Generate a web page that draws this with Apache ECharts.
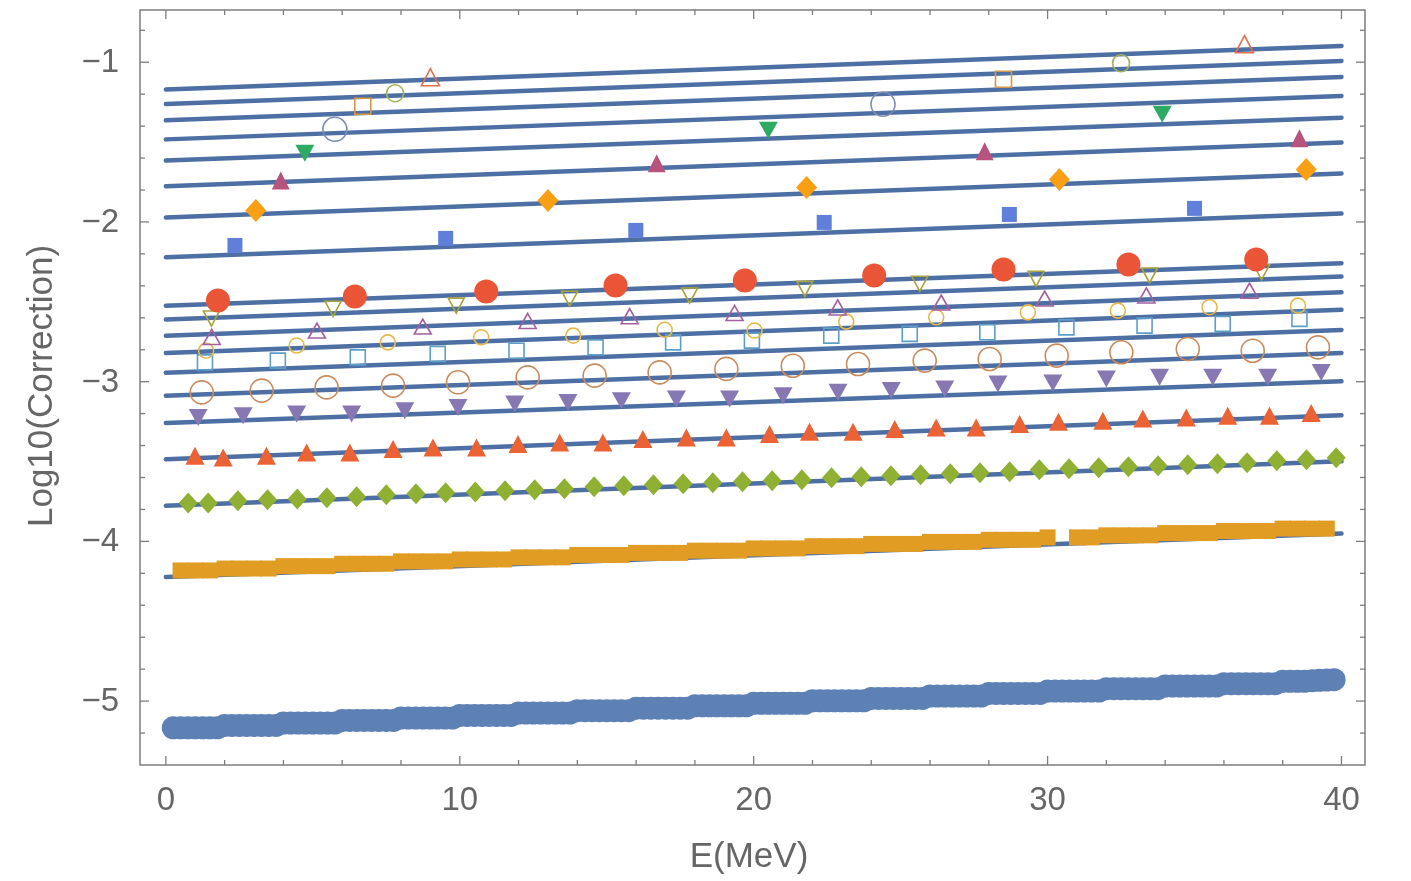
<!DOCTYPE html>
<html><head><meta charset="utf-8">
<script src="https://cdn.jsdelivr.net/npm/echarts@6/dist/echarts.min.js"></script>
<style>html,body{margin:0;padding:0;background:#fff}#c{width:1411px;height:881px}</style>
</head><body><div id="c"></div>
<script>
// ---------- DATA ----------
const xMajorTicks = [0, 10, 20, 30, 40];
const xTickLabels = ['0', '10', '20', '30', '40'];
const xMinorTicks = [2, 4, 6, 8, 12, 14, 16, 18, 22, 24, 26, 28, 32, 34, 36, 38];
const yMajorTicks = [-5, -4, -3, -2, -1];
const yTickLabels = ['\u22125', '\u22124', '\u22123', '\u22122', '\u22121'];
const yMinorTicks = [-5.2, -4.8, -4.6, -4.4, -4.2, -3.8, -3.6, -3.4, -3.2, -2.8, -2.6, -2.4, -2.2, -1.8, -1.6, -1.4, -1.2, -0.8];

// fitted lines (value at E = lineX[0] and lineX[1])
const lineX = [0, 40];
const lineStart = [-1.171, -1.261, -1.364, -1.483, -1.616, -1.776, -1.972, -2.221, -2.524, -2.611, -2.712, -2.820, -2.944, -3.088, -3.259, -3.485, -3.777, -4.223, -5.175];
const lineEnd = [-0.898, -0.992, -1.092, -1.211, -1.347, -1.503, -1.696, -1.947, -2.258, -2.342, -2.440, -2.550, -2.676, -2.820, -2.998, -3.211, -3.499, -3.951, -4.880];

// series A (blue dots, dense)
const aX = [
  0.25,0.5,0.75,1.0,1.25,1.5,1.75,
  2.0,2.25,2.5,2.75,3.0,3.25,3.5,3.75,
  4.0,4.25,4.5,4.75,5.0,5.25,5.5,5.75,
  6.0,6.25,6.5,6.75,7.0,7.25,7.5,7.75,
  8.0,8.25,8.5,8.75,9.0,9.25,9.5,9.75,
  10.0,10.25,10.5,10.75,11.0,11.25,11.5,11.75,
  12.0,12.25,12.5,12.75,13.0,13.25,13.5,13.75,
  14.0,14.25,14.5,14.75,15.0,15.25,15.5,15.75,
  16.0,16.25,16.5,16.75,17.0,17.25,17.5,17.75,
  18.0,18.25,18.5,18.75,19.0,19.25,19.5,19.75,
  20.0,20.25,20.5,20.75,21.0,21.25,21.5,21.75,
  22.0,22.25,22.5,22.75,23.0,23.25,23.5,23.75,
  24.0,24.25,24.5,24.75,25.0,25.25,25.5,25.75,
  26.0,26.25,26.5,26.75,27.0,27.25,27.5,27.75,
  28.0,28.25,28.5,28.75,29.0,29.25,29.5,29.75,
  30.0,30.25,30.5,30.75,31.0,31.25,31.5,31.75,
  32.0,32.25,32.5,32.75,33.0,33.25,33.5,33.75,
  34.0,34.25,34.5,34.75,35.0,35.25,35.5,35.75,
  36.0,36.25,36.5,36.75,37.0,37.25,37.5,37.75,
  38.0,38.25,38.5,38.75,39.0,39.25,39.5,39.75];
const aY = [
  -5.167,-5.167,-5.167,-5.167,-5.167,-5.167,-5.167,
  -5.152,-5.152,-5.152,-5.152,-5.152,-5.152,-5.152,-5.152,
  -5.137,-5.137,-5.137,-5.137,-5.137,-5.137,-5.137,-5.137,
  -5.121,-5.121,-5.121,-5.121,-5.121,-5.121,-5.121,-5.121,
  -5.106,-5.106,-5.106,-5.106,-5.106,-5.106,-5.106,-5.106,
  -5.090,-5.090,-5.090,-5.090,-5.090,-5.090,-5.090,-5.090,
  -5.075,-5.075,-5.075,-5.075,-5.075,-5.075,-5.075,-5.075,
  -5.060,-5.060,-5.060,-5.060,-5.060,-5.060,-5.060,-5.060,
  -5.044,-5.044,-5.044,-5.044,-5.044,-5.044,-5.044,-5.044,
  -5.029,-5.029,-5.029,-5.029,-5.029,-5.029,-5.029,-5.029,
  -5.014,-5.014,-5.014,-5.014,-5.014,-5.014,-5.014,-5.014,
  -4.998,-4.998,-4.998,-4.998,-4.998,-4.998,-4.998,-4.998,
  -4.983,-4.983,-4.983,-4.983,-4.983,-4.983,-4.983,-4.983,
  -4.968,-4.968,-4.968,-4.968,-4.968,-4.968,-4.968,-4.968,
  -4.952,-4.952,-4.952,-4.952,-4.952,-4.952,-4.952,-4.952,
  -4.937,-4.937,-4.937,-4.937,-4.937,-4.937,-4.937,-4.937,
  -4.922,-4.922,-4.922,-4.922,-4.922,-4.922,-4.922,-4.922,
  -4.906,-4.906,-4.906,-4.906,-4.906,-4.906,-4.906,-4.906,
  -4.891,-4.891,-4.891,-4.891,-4.891,-4.891,-4.891,-4.891,
  -4.876,-4.876,-4.876,-4.876,-4.872,-4.870,-4.868,-4.866];

// series B (orange squares, dense)
const bX = [0.5,1.0,1.5,2.0,2.5,3.0,3.5,4.0,4.5,5.0,5.5,6.0,6.5,7.0,7.5,8.0,8.5,9.0,9.5,10.0,10.5,11.0,11.5,12.0,12.5,13.0,13.5,14.0,14.5,15.0,15.5,16.0,16.5,17.0,17.5,18.0,18.5,19.0,19.5,20.0,20.5,21.0,21.5,22.0,22.5,23.0,23.5,24.0,24.5,25.0,25.5,26.0,26.5,27.0,27.5,28.0,28.5,29.0,29.5,30.0,31.0,31.5,32.0,32.5,33.0,33.5,34.0,34.5,35.0,35.5,36.0,36.5,37.0,37.5,38.0,38.5,39.0,39.5];
const bY = [-4.182,-4.182,-4.182,-4.170,-4.170,-4.170,-4.170,-4.155,-4.155,-4.155,-4.155,-4.140,-4.140,-4.140,-4.140,-4.125,-4.125,-4.125,-4.125,-4.113,-4.113,-4.113,-4.113,-4.100,-4.100,-4.100,-4.100,-4.085,-4.085,-4.085,-4.085,-4.072,-4.072,-4.072,-4.072,-4.058,-4.058,-4.058,-4.058,-4.044,-4.044,-4.044,-4.044,-4.030,-4.030,-4.030,-4.030,-4.016,-4.016,-4.016,-4.016,-4.003,-4.003,-4.003,-4.003,-3.990,-3.990,-3.990,-3.990,-3.975,-3.975,-3.975,-3.962,-3.962,-3.962,-3.962,-3.948,-3.948,-3.948,-3.948,-3.935,-3.935,-3.935,-3.935,-3.920,-3.920,-3.920,-3.920];

// series C (green diamonds)
const cX = [0.76,1.44,2.45,3.46,4.47,5.48,6.49,7.50,8.51,9.52,10.53,11.54,12.55,13.56,14.57,15.58,16.59,17.60,18.61,19.62,20.63,21.64,22.65,23.66,24.67,25.68,26.69,27.70,28.71,29.72,30.73,31.74,32.75,33.76,34.77,35.78,36.79,37.80,38.81,39.82];
const cY = [-3.759,-3.759,-3.746,-3.740,-3.734,-3.727,-3.721,-3.708,-3.702,-3.696,-3.690,-3.683,-3.677,-3.671,-3.658,-3.652,-3.646,-3.639,-3.633,-3.627,-3.621,-3.614,-3.602,-3.596,-3.589,-3.583,-3.577,-3.571,-3.564,-3.552,-3.545,-3.539,-3.533,-3.527,-3.520,-3.514,-3.508,-3.495,-3.489,-3.476];

// series D (red triangles)
const dX = [0.99,1.95,3.42,4.79,6.26,7.73,9.09,10.57,11.98,13.40,14.87,16.23,17.71,19.07,20.54,21.90,23.38,24.80,26.21,27.57,29.05,30.37,31.88,33.24,34.72,36.13,37.55,38.97];
const dY = [-3.464,-3.475,-3.464,-3.443,-3.443,-3.422,-3.412,-3.412,-3.391,-3.381,-3.381,-3.359,-3.349,-3.349,-3.328,-3.313,-3.313,-3.297,-3.287,-3.287,-3.265,-3.251,-3.245,-3.230,-3.224,-3.213,-3.213,-3.196];

// series E (purple down triangles)
const eX = [1.10,2.63,4.45,6.32,8.13,9.94,11.87,13.68,15.50,17.37,19.18,21.00,22.87,24.68,26.50,28.31,30.18,32.00,33.81,35.62,37.49,39.31];
const eY = [-3.224,-3.213,-3.203,-3.203,-3.182,-3.161,-3.140,-3.130,-3.119,-3.108,-3.108,-3.088,-3.067,-3.056,-3.046,-3.014,-3.009,-2.983,-2.973,-2.973,-2.973,-2.942];

// series F (brown open circles)
const fX = [1.22,3.26,5.47,7.73,9.94,12.31,14.59,16.80,19.07,21.33,23.55,25.82,28.03,30.31,32.51,34.77,36.98,39.20];
const fY = [-3.067,-3.056,-3.036,-3.025,-3.004,-2.973,-2.962,-2.942,-2.920,-2.900,-2.889,-2.868,-2.858,-2.837,-2.816,-2.795,-2.806,-2.785];

// series G (light blue open squares)
const gX = [1.33,3.81,6.53,9.25,11.93,14.62,17.26,19.94,22.64,25.31,27.95,30.64,33.30,35.96,38.57];
const gY = [-2.879,-2.868,-2.848,-2.826,-2.806,-2.785,-2.754,-2.743,-2.712,-2.701,-2.691,-2.660,-2.649,-2.638,-2.607];

// series H (yellow open markers)
const hX = [1.37,4.45,7.55,10.73,13.86,16.97,20.03,23.15,26.21,29.33,32.39,35.51,38.52];
const hY = [-2.806,-2.774,-2.754,-2.722,-2.712,-2.675,-2.680,-2.624,-2.597,-2.566,-2.555,-2.534,-2.524];

// series I (purple open triangles)
const iX = [1.56,5.14,8.74,12.31,15.78,19.35,22.86,26.38,29.90,33.36,36.87];
const iY = [-2.720,-2.680,-2.655,-2.620,-2.590,-2.570,-2.535,-2.505,-2.480,-2.460,-2.430];

// series J (olive open down triangles)
const jX = [1.55,5.69,9.88,13.74,17.82,21.74,25.65,29.61,33.47,37.28];
const jY = [-2.605,-2.544,-2.524,-2.481,-2.461,-2.419,-2.387,-2.356,-2.335,-2.315];

// series K (red big dots)
const kX = [1.77,6.43,10.90,15.30,19.70,24.10,28.50,32.75,37.10];
const kY = [-2.492,-2.467,-2.436,-2.398,-2.367,-2.335,-2.298,-2.266,-2.235];

// series L (blue squares)
const lX = [2.35,9.52,15.99,22.40,28.70,35.00];
const lY = [-2.147,-2.103,-2.053,-2.003,-1.953,-1.915];

// series M (orange diamonds)
const mX = [3.06,13.00,21.80,30.40,38.80];
const mY = [-1.928,-1.865,-1.784,-1.734,-1.671];

// series N (magenta triangles)
const nX = [3.91,16.70,27.86,38.57];
const nY = [-1.740,-1.633,-1.558,-1.476];

// series O (green down triangles)
const oX = [4.73,20.50,33.90];
const oY = [-1.570,-1.426,-1.326];

// series P (grey-blue open circles)
const pX = [5.75,24.40];
const pY = [-1.420,-1.263];

// series Q (orange open squares)
const qX = [6.70,28.50];
const qY = [-1.276,-1.107];

// series R (green open markers)
const rX = [7.80,32.50];
const rY = [-1.194,-1.006];

// series S (red open triangles)
const sX = [9.00,36.70];
const sY = [-1.094,-0.887];

// ---------- CHART ----------
const pairs = (xs, ys) => xs.map((v, i) => [v, ys[i]]);
const FONT = '"Liberation Sans", Arial, sans-serif';
const LABEL = '#666666';
const FRAME = '#7d7d7d';

const markerSpecs = [
  {name:'A', x:aX, y:aY, symbol:'circle', size:23, color:'#5E81B5', filled:true},
  {name:'B', x:bX, y:bY, symbol:'rect', size:16, color:'#E19C24', filled:true},
  {name:'C', x:cX, y:cY, symbol:'diamond', size:[19,21], color:'#8FB032', filled:true},
  {name:'D', x:dX, y:dY, symbol:'triangle', size:[19,18], color:'#EB6235', filled:true},
  {name:'E', x:eX, y:eY, symbol:'triangle', size:[19,17], color:'#8778B3', filled:true, rot:180},
  {name:'F', x:fX, y:fY, symbol:'circle', size:23, color:'#C98B5E', filled:false},
  {name:'G', x:gX, y:gY, symbol:'rect', size:15, color:'#5D9EC7', filled:false},
  {name:'H', x:hX, y:hY, symbol:'circle', size:15, color:'#E6B84A', filled:false},
  {name:'I', x:iX, y:iY, symbol:'triangle', size:[17,15], color:'#A5609D', filled:false},
  {name:'J', x:jX, y:jY, symbol:'triangle', size:[16,15], color:'#A8A33A', filled:false, rot:180},
  {name:'K', x:kX, y:kY, symbol:'circle', size:24, color:'#E95536', filled:true},
  {name:'L', x:lX, y:lY, symbol:'rect', size:15, color:'#5F7FDB', filled:true},
  {name:'M', x:mX, y:mY, symbol:'diamond', size:[21,23], color:'#F89F13', filled:true},
  {name:'N', x:nX, y:nY, symbol:'triangle', size:[18,18], color:'#B8537E', filled:true},
  {name:'O', x:oX, y:oY, symbol:'triangle', size:[19,17], color:'#2FAA62', filled:true, rot:180},
  {name:'P', x:pX, y:pY, symbol:'circle', size:24, color:'#7F8BB5', filled:false},
  {name:'Q', x:qX, y:qY, symbol:'rect', size:16, color:'#D5964A', filled:false},
  {name:'R', x:rX, y:rY, symbol:'circle', size:17, color:'#A4B05E', filled:false},
  {name:'S', x:sX, y:sY, symbol:'triangle', size:[18,17], color:'#E46F50', filled:false}
];

const series = [];
lineStart.forEach((v, i) => {
  series.push({
    type:'line', name:'fit'+i, data:[[lineX[0], v],[lineX[1], lineEnd[i]]],
    symbol:'none', silent:true, z:2,
    lineStyle:{color:'#4D6FA3', width:4.5, cap:'round'}
  });
});
markerSpecs.forEach(s => {
  series.push({
    type:'scatter', name:s.name, data:pairs(s.x, s.y), z:3, silent:true,
    symbol:s.symbol, symbolSize:s.size, symbolRotate:s.rot || 0,
    itemStyle: s.filled ? {color:s.color, opacity:1} :
      {color:'rgba(0,0,0,0)', borderColor:s.color, borderWidth:1.6, opacity:1}
  });
});

// frame ticks and tick labels drawn through the axis scales
series.push({
  type:'custom', name:'ticks', silent:true, z:5, clip:false,
  data:[[0, -3]],
  renderItem: function (params, api) {
    const cs = params.coordSys;
    const left = cs.x, right = cs.x + cs.width, top = cs.y, bottom = cs.y + cs.height;
    const ch = [];
    const tick = (x1, y1, x2, y2) => ch.push({type:'line', shape:{x1, y1, x2, y2},
      style:{stroke:FRAME, lineWidth:1.3}});
    const MAJ = 9, MIN = 5;
    xMajorTicks.forEach((v, i) => {
      const px = api.coord([v, -3])[0];
      tick(px, bottom, px, bottom - MAJ); tick(px, top, px, top + MAJ);
      ch.push({type:'text', style:{text:xTickLabels[i], x:px, y:bottom + 36,
        fill:LABEL, font:'33px ' + FONT, align:'center', verticalAlign:'middle'}});
    });
    xMinorTicks.forEach(v => {
      const px = api.coord([v, -3])[0];
      tick(px, bottom, px, bottom - MIN); tick(px, top, px, top + MIN);
    });
    yMajorTicks.forEach((v, i) => {
      const py = api.coord([0, v])[1];
      tick(left, py, left + MAJ, py); tick(right, py, right - MAJ, py);
      ch.push({type:'text', style:{text:yTickLabels[i], x:left - 21, y:py + 1,
        fill:LABEL, font:'33px ' + FONT, align:'right', verticalAlign:'middle'}});
    });
    yMinorTicks.forEach(v => {
      const py = api.coord([0, v])[1];
      tick(left, py, left + MIN, py); tick(right, py, right - MIN, py);
    });
    return {type:'group', children:ch};
  }
});

const chart = echarts.init(document.getElementById('c'), null, {renderer:'canvas'});
chart.setOption({
  animation:false,
  backgroundColor:'#ffffff',
  grid:{left:140, right:46, top:10, bottom:116, show:true, borderColor:FRAME, borderWidth:1.5, backgroundColor:'rgba(0,0,0,0)'},
  xAxis:{type:'value', min:-0.88, max:40.8, axisLine:{show:false}, axisTick:{show:false}, axisLabel:{show:false}, splitLine:{show:false}},
  yAxis:{type:'value', min:-5.40, max:-0.673, axisLine:{show:false}, axisTick:{show:false}, axisLabel:{show:false}, splitLine:{show:false}},
  graphic:[
    {type:'text', x:749, y:857, style:{text:'E(MeV)', fill:LABEL, font:'35px ' + FONT, align:'center', verticalAlign:'middle'}},
    {type:'text', x:42, y:386, rotation:Math.PI/2, style:{text:'Log10(Correction)', fill:LABEL, font:'35px ' + FONT, align:'center', verticalAlign:'middle'}}
  ],
  series: series
});
</script>
</body></html>
